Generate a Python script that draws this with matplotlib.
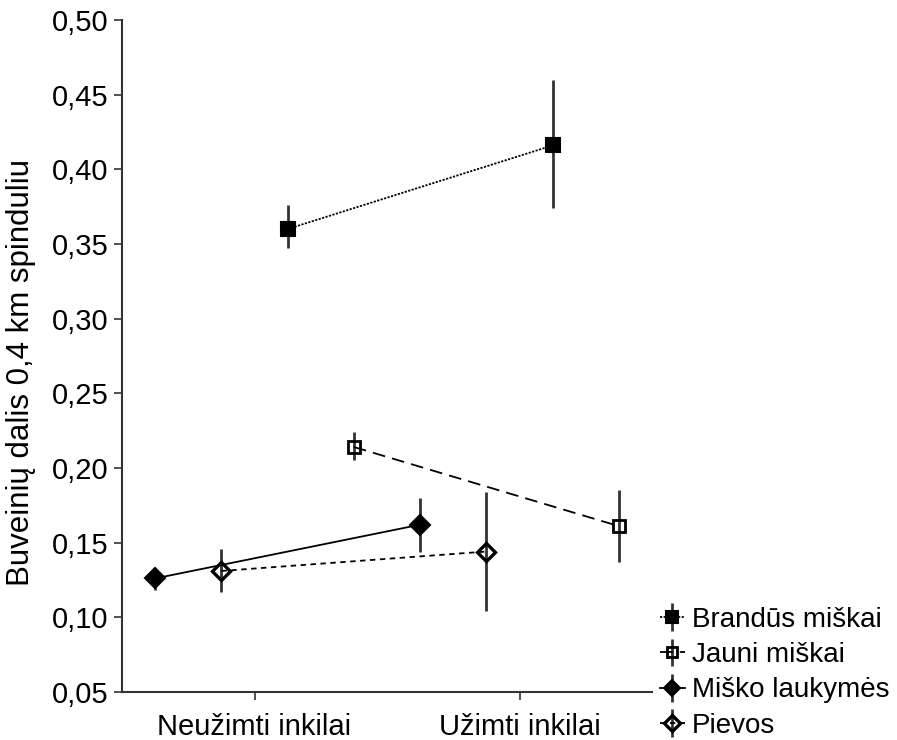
import numpy as np
import matplotlib.pyplot as plt

plt.rcParams['font.family'] = ['Liberation Sans', 'DejaVu Sans']

groups = ['Neužimti inkilai', 'Užimti inkilai']
habitats = ['Brandūs miškai', 'Jauni miškai', 'Miško laukymės', 'Pievos']

# mean share and error bar ends (low, high) for each habitat
means = {
    'Brandūs miškai': [0.360, 0.416],
    'Jauni miškai':   [0.214, 0.161],
    'Miško laukymės': [0.126, 0.162],
    'Pievos':         [0.131, 0.144],
}
lows = {
    'Brandūs miškai': [0.347, 0.374],
    'Jauni miškai':   [0.205, 0.137],
    'Miško laukymės': [0.118, 0.144],
    'Pievos':         [0.117, 0.104],
}
highs = {
    'Brandūs miškai': [0.376, 0.460],
    'Jauni miškai':   [0.224, 0.185],
    'Miško laukymės': [0.133, 0.180],
    'Pievos':         [0.146, 0.184],
}

offsets = {'Brandūs miškai': 0.125, 'Jauni miškai': 0.375,
           'Miško laukymės': -0.375, 'Pievos': -0.125}
styles = {
    'Brandūs miškai': dict(marker='s', ms=10, mfc='black', mew=1.5, ls=(0, (1.2, 0.8))),
    'Jauni miškai':   dict(marker='s', ms=8.5, mfc='none', mew=2, ls=(0, (7, 4))),
    'Miško laukymės': dict(marker='D', ms=10, mfc='black', mew=1.5, ls='-'),
    'Pievos':         dict(marker='D', ms=9.5, mfc='none', mew=2.4, ls=(0, (3, 2.5))),
}

fig = plt.figure(figsize=(8.97, 7.4), dpi=100)
ax = fig.add_axes([0.136, 0.065, 0.591, 0.908])

x = np.arange(len(groups))
for h in habitats:
    m = np.array(means[h])
    err = np.array([m - np.array(lows[h]), np.array(highs[h]) - m])
    st = styles[h]
    ax.errorbar(x + offsets[h], m, yerr=err, color='black', ecolor='#333333',
                elinewidth=2, capsize=0, marker=st['marker'], ms=st['ms'],
                mfc=st['mfc'], mec='black', mew=st['mew'], ls=st['ls'],
                lw=1.3, label=h)

ax.set_xlim(-0.5, 1.5)
ax.set_ylim(0.05, 0.50)
ax.set_xticks(x)
ax.set_xticklabels(groups)
yt = np.arange(0.05, 0.501, 0.05)
ax.set_yticks(yt)
ax.set_yticklabels([f'{v:.2f}'.replace('.', ',') for v in yt])
ax.set_ylabel('Buveinių dalis 0,4 km spinduliu', fontsize=22.5)
ax.yaxis.set_label_coords(-0.162, 0.476)

for s in ['top', 'right']:
    ax.spines[s].set_visible(False)
for s in ['left', 'bottom']:
    ax.spines[s].set_color('#333333')
    ax.spines[s].set_linewidth(1.5)
ax.tick_params(axis='both', labelsize=21, length=6, width=1.2, color='#333333',
               direction='out')
ax.tick_params(axis='x', pad=9)

fig.legend(loc='lower left', bbox_to_anchor=(0.723, -0.013), frameon=False,
           fontsize=20, handlelength=0.9, handletextpad=0.25, labelspacing=0.33,
           markerscale=0.85, borderaxespad=0)

fig.savefig('out.png', dpi=100)
